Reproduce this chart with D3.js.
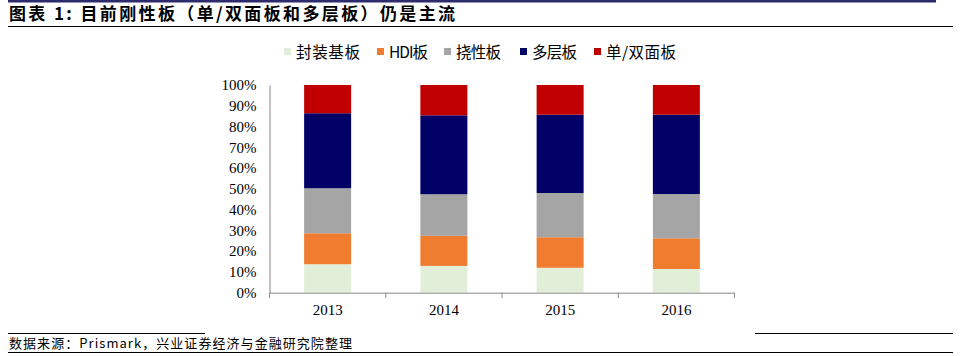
<!DOCTYPE html>
<html><head><meta charset="utf-8">
<script src="https://cdn.jsdelivr.net/npm/d3@7"></script>
<style>body{margin:0;background:#fff;}svg{display:block;}</style>
</head><body><svg id="c" width="968" height="356"></svg>
<script>
const title = "图表 1:  目前刚性板（单/双面板和多层板）仍是主流";
const source = "数据来源：Prismark，兴业证券经济与金融研究院整理";
const categories = ["2013", "2014", "2015", "2016"];
const seriesNames = ["封装基板", "HDI板", "挠性板", "多层板", "单/双面板"];
const seriesColors = ["#e2efd8", "#f07c30", "#a5a5a5", "#000066", "#c00000"];
const pkg = [13.7, 12.9, 12.0, 11.4];
const hdi = [14.9, 14.5, 14.7, 14.8];
const flex = [21.7, 20.0, 21.3, 21.3];
const multi = [36.1, 38.0, 37.7, 38.2];
const single = [13.6, 14.6, 14.3, 14.3];
const yTicks = [0, 10, 20, 30, 40, 50, 60, 70, 80, 90, 100];

const svg = d3.select("#c");
const serif = "'Liberation Serif','Times New Roman',serif";
const cjk = "'Noto Sans CJK SC',sans-serif";

// header
svg.append("rect").attr("x", 8).attr("y", 0).attr("width", 928).attr("height", 2.5).attr("fill", "#2e2a6e");
svg.append("text").attr("x", 9).attr("y", 20).attr("font-family", cjk).attr("font-weight", "bold")
  .attr("font-size", 17).attr("fill", "#000")
  .attr("textLength", 446).attr("lengthAdjust", "spacing").text(title);
svg.append("line").attr("x1", 8).attr("x2", 953).attr("y1", 26.5).attr("y2", 26.5).attr("stroke", "#000").attr("stroke-width", 1.2);

// footer
svg.append("line").attr("x1", 8).attr("x2", 205).attr("y1", 333.5).attr("y2", 333.5).attr("stroke", "#000");
svg.append("line").attr("x1", 755).attr("x2", 953).attr("y1", 333.5).attr("y2", 333.5).attr("stroke", "#000");
svg.append("text").attr("x", 9).attr("y", 348).attr("font-family", cjk).attr("font-size", 13).attr("fill", "#000")
  .attr("textLength", 343).attr("lengthAdjust", "spacing").text(source);
svg.append("line").attr("x1", 8).attr("x2", 953).attr("y1", 352.5).attr("y2", 352.5).attr("stroke", "#000");

// scales
const x = d3.scaleBand().domain(categories).range([269.5, 734.5]).paddingInner(0).paddingOuter(0);
const y = d3.scaleLinear().domain([0, 100]).range([292.7, 85]);
const barW = 47;

const rows = categories.map((c, i) => ({
  cat: c, "封装基板": pkg[i], "HDI板": hdi[i], "挠性板": flex[i], "多层板": multi[i], "单/双面板": single[i]
}));
const stack = d3.stack().keys(seriesNames)(rows);

const g = svg.append("g");
stack.forEach((layer, si) => {
  g.selectAll(null).data(layer).enter().append("rect")
    .attr("x", d => x(d.data.cat) + (x.bandwidth() - barW) / 2)
    .attr("width", barW)
    .attr("y", d => y(Math.min(d[1], 100)))
    .attr("height", d => y(d[0]) - y(Math.min(d[1], 100)))
    .attr("fill", seriesColors[si]);
});

// y axis
const yAxis = g.append("g").attr("transform", "translate(269.5,0)")
  .call(d3.axisLeft(y).tickValues(yTicks).tickFormat(d => d + "%").tickSize(0).tickPadding(13));
yAxis.select(".domain").attr("stroke", "#888");
yAxis.selectAll("text").attr("font-family", serif).attr("font-size", 15).attr("fill", "#000");

// x axis
const xAxis = g.append("g").attr("transform", "translate(0,292.7)")
  .call(d3.axisBottom(x).tickSize(0).tickPadding(12));
xAxis.select(".domain").attr("stroke", "#888");
xAxis.selectAll("text").attr("font-family", serif).attr("font-size", 15).attr("fill", "#000");
// category separator ticks
const bounds = categories.map(c => x(c)).concat([x(categories[categories.length - 1]) + x.bandwidth()]);
g.selectAll(null).data(bounds).enter().append("line")
  .attr("x1", d => d).attr("x2", d => d).attr("y1", 292.7).attr("y2", 298)
  .attr("stroke", "#888");

// legend
const legendX = [284, 377, 444, 520, 594];
const legendW = [64, 39, 45, 45, 70];
const lg = svg.append("g");
seriesNames.forEach((n, i) => {
  lg.append("rect").attr("x", legendX[i]).attr("y", 48).attr("width", 7).attr("height", 7).attr("fill", seriesColors[i]);
  lg.append("text").attr("x", legendX[i] + 12).attr("y", 58).attr("font-family", cjk).attr("font-size", 15.5)
    .attr("fill", "#000").attr("textLength", legendW[i]).attr("lengthAdjust", "spacing").text(n);
});
</script></body></html>
